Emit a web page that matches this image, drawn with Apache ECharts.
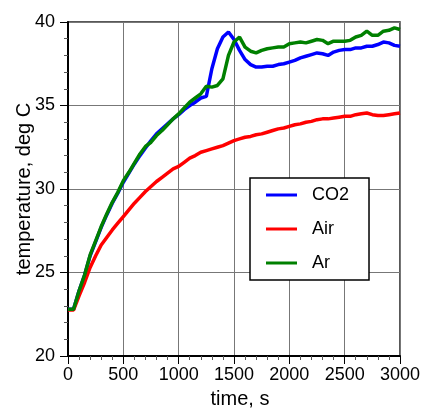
<!DOCTYPE html>
<html>
<head>
<meta charset="utf-8">
<script src="https://cdn.jsdelivr.net/npm/echarts@6/dist/echarts.min.js"></script>
<style>
html,body{margin:0;padding:0;background:#fff;}
#chart{width:423px;height:410px;}
</style>
</head>
<body>
<div id="chart"></div>
<script>
var time = [0,50,100,150,200,250,300,350,400,450,500,550,600,650,700,750,800,850,900,950,1000,1050,1100,1150,1200,1250,1300,1350,1400,1450,1500,1550,1600,1650,1700,1750,1800,1850,1900,1950,2000,2050,2100,2150,2200,2250,2300,2350,2400,2450,2500,2550,2600,2650,2700,2750,2800,2850,2900,2950,3000];

var co2 = [22.8,22.8,23.9,24.85,26.0,26.85,27.7,28.45,29.15,29.75,30.4,30.95,31.5,32.0,32.45,32.9,33.3,33.6,33.9,34.2,34.45,34.75,35.0,35.2,35.45,35.55,37.2,38.4,39.1,39.4,38.95,38.3,37.75,37.45,37.3,37.3,37.35,37.35,37.45,37.5,37.6,37.7,37.85,37.95,38.05,38.15,38.1,38.0,38.2,38.3,38.35,38.35,38.45,38.45,38.55,38.55,38.65,38.8,38.75,38.6,38.55];

var air = [22.75,22.75,23.6,24.4,25.3,26.0,26.65,27.1,27.55,27.95,28.35,28.75,29.15,29.5,29.85,30.15,30.45,30.7,30.95,31.2,31.35,31.6,31.85,32.0,32.2,32.3,32.4,32.5,32.6,32.75,32.9,33.0,33.1,33.15,33.25,33.3,33.4,33.5,33.6,33.65,33.75,33.85,33.9,34.0,34.05,34.15,34.2,34.2,34.25,34.3,34.35,34.35,34.45,34.5,34.55,34.45,34.4,34.4,34.45,34.5,34.55];

var ar = [22.8,22.8,23.9,24.85,26.05,26.9,27.75,28.5,29.2,29.8,30.5,31.0,31.55,32.1,32.55,32.8,33.2,33.5,33.85,34.2,34.5,34.85,35.2,35.45,35.7,36.15,36.1,36.2,36.6,38.0,38.8,39.1,38.5,38.25,38.15,38.3,38.4,38.45,38.5,38.5,38.7,38.75,38.8,38.75,38.85,38.95,38.9,38.7,38.85,38.85,38.85,38.9,39.1,39.2,39.45,39.2,39.2,39.45,39.5,39.65,39.55];

var seriesNames = ['CO2','Air','Ar'];
var seriesColors = ['#0000ff','#ff0000','#008000'];
var xTitle = 'time, s';
var yTitle = 'temperature, deg C';

function pairs(ys){ return time.map(function(t,i){ return [t, ys[i]]; }); }

var FONT = 'Liberation Sans';
var chart = echarts.init(document.getElementById('chart'), null, {renderer:'canvas'});
var data = [co2, air, ar];
chart.setOption({
  animation:false,
  backgroundColor:'#fff',
  grid:{left:68,right:23,top:22,bottom:54,show:true,borderColor:'#222',borderWidth:1.5,backgroundColor:'transparent',containLabel:false,outerBoundsMode:'none'},
  legend:{
    data:seriesNames,
    orient:'vertical',
    left:250, top:178,
    backgroundColor:'#fff',
    borderColor:'#000', borderWidth:1.5,
    padding:[7,20,7,16],
    itemWidth:31, itemHeight:3, itemGap:14,
    icon:'rect',
    textStyle:{fontFamily:FONT,fontSize:18,color:'#000',lineHeight:20,padding:[0,0,0,10]}
  },
  xAxis:{
    type:'value', min:0, max:3000, interval:500,
    name:xTitle, nameLocation:'middle', nameGap:33, nameMoveOverlap:false,
    nameTextStyle:{fontFamily:FONT,fontSize:20,color:'#000',padding:[0,0,0,12]},
    axisLine:{show:true,onZero:false,lineStyle:{color:'#000',width:2}},
    axisTick:{show:true,inside:false,length:8,lineStyle:{color:'#000',width:1}},
    minorTick:{show:true,splitNumber:5,length:4,lineStyle:{color:'#555',width:1}},
    splitLine:{show:true,lineStyle:{color:'#777',width:1}},
    axisLabel:{fontFamily:FONT,fontSize:18,color:'#000',margin:10,formatter:function(v){return String(v);}}
  },
  yAxis:{
    type:'value', min:20, max:40, interval:5,
    name:yTitle, nameLocation:'middle', nameGap:34, nameMoveOverlap:false,
    nameTextStyle:{fontFamily:FONT,fontSize:20,color:'#000'},
    axisLine:{show:true,onZero:false,lineStyle:{color:'#000',width:2}},
    axisTick:{show:true,inside:false,length:8,lineStyle:{color:'#000',width:1}},
    minorTick:{show:true,splitNumber:5,length:4,lineStyle:{color:'#555',width:1}},
    splitLine:{show:true,lineStyle:{color:'#777',width:1}},
    axisLabel:{fontFamily:FONT,fontSize:18,color:'#000',margin:13,formatter:function(v){return String(v);}}
  },
  series: seriesNames.map(function(n,i){
    return {
      name:n, type:'line', data:pairs(data[i]),
      symbol:'none', showSymbol:false,
      lineStyle:{color:seriesColors[i],width:3.5},
      itemStyle:{color:seriesColors[i]}
    };
  })
});
</script>
</body>
</html>
